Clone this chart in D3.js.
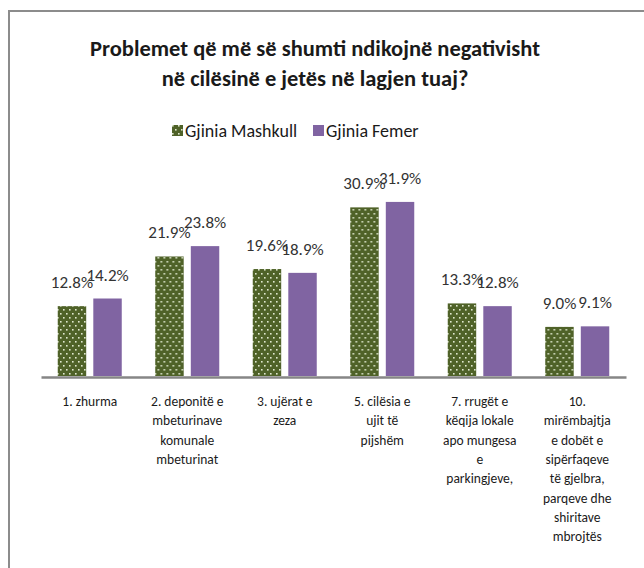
<!DOCTYPE html>
<html><head><meta charset="utf-8">
<script src="https://cdn.jsdelivr.net/npm/d3@7"></script>
<style>html,body{margin:0;background:#fff;overflow:hidden}svg{display:block}</style>
</head><body>
<svg id="chart" width="644" height="568"></svg>
<script>
const titleLines = ["Problemet që më së shumti ndikojnë negativisht", "në cilësinë e jetës në lagjen tuaj?"];
const categories = [
  ["1. zhurma"],
  ["2. deponitë e", "mbeturinave", "komunale", "mbeturinat"],
  ["3. ujërat e", "zeza"],
  ["5. cilësia e", "ujit të", "pijshëm"],
  ["7. rrugët e", "këqija lokale", "apo mungesa", "e", "parkingjeve,"],
  ["10.", "mirëmbajtja", "e dobët e", "sipërfaqeve", "të gjelbra,", "parqeve dhe", "shiritave", "mbrojtës"]
];
const seriesNames = ["Gjinia Mashkull", "Gjinia Femer"];
const male = [12.8, 21.9, 19.6, 30.9, 13.3, 9.0];
const female = [14.2, 23.8, 18.9, 31.9, 12.8, 9.1];

const font = "Carlito, Lato, 'Open Sans', sans-serif";
const svg = d3.select("#chart");

// pattern
const defs = svg.append("defs");
const pat = defs.append("pattern").attr("id","dots").attr("patternUnits","userSpaceOnUse")
  .attr("width",6).attr("height",8);
pat.append("rect").attr("width",6).attr("height",8).attr("fill","#4F6228");
pat.append("rect").attr("x",1).attr("y",1).attr("width",1.6).attr("height",1.6).attr("fill","#dfe8cf");
pat.append("rect").attr("x",4).attr("y",5).attr("width",1.6).attr("height",1.6).attr("fill","#dfe8cf");

// frame (only left and top edges are inside the picture)
svg.append("path").attr("d","M9,600V11H700")
  .attr("fill","none").attr("stroke","#8c8c8c").attr("stroke-width",2);

// title
svg.append("g").selectAll("text").data(titleLines).join("text")
  .attr("x",315).attr("y",(d,i)=>56+i*30).attr("text-anchor","middle")
  .attr("font-family",font).attr("font-weight","bold").attr("font-size",22.5)
  .attr("fill","#1a1a1a").text(d=>d);

const x0 = d3.scaleBand().domain(d3.range(categories.length)).range([41,626]);
const x1 = d3.scaleBand().domain([0,1]).range([x0.bandwidth()/2-32, x0.bandwidth()/2+32]).paddingInner(0.2);
const y = d3.scaleLinear().domain([0,35]).range([376,185]);
const fills = ["url(#dots)", "#8064A2"];
const data = [male, female];

const groups = svg.append("g").selectAll("g").data(categories).join("g")
  .attr("transform",(d,i)=>`translate(${x0(i)},0)`);
groups.each(function(c,i){
  const g = d3.select(this);
  [0,1].forEach(s=>{
    const v = data[s][i];
    g.append("rect").attr("x",x1(s)).attr("width",x1.bandwidth())
      .attr("y",y(v)).attr("height",y(0)-y(v)).attr("fill",fills[s]);
  });
});
groups.each(function(c,i){
  const g = d3.select(this);
  [0,1].forEach(s=>{
    const v = data[s][i];
    g.append("text").attr("x",x1(s)+x1.bandwidth()/2).attr("y",y(v)-18)
      .attr("text-anchor","middle").attr("font-family",font).attr("font-size",17)
      .attr("fill","#333").text(v.toFixed(1)+"%");
  });
});

// axis
const axis = svg.append("g").attr("transform","translate(0,377)")
  .call(d3.axisBottom(x0).tickSize(0).tickFormat(""));
axis.select(".domain").attr("stroke","#868686").attr("stroke-width",2.5);

// category labels
groups.each(function(c,i){
  d3.select(this).append("g").selectAll("text").data(c).join("text")
    .attr("x",x0.bandwidth()/2).attr("y",(d,j)=>406+j*19.3)
    .attr("text-anchor","middle").attr("font-family",font).attr("font-size",13.5)
    .attr("fill","#1a1a1a").text(d=>d);
});

// legend
const leg = svg.append("g");
const legX = [172, 313];
seriesNames.forEach((n,i)=>{
  leg.append("rect").attr("x",legX[i]).attr("y",125).attr("width",11).attr("height",11).attr("fill",fills[i]);
  leg.append("text").attr("x",legX[i]+13).attr("y",137).attr("font-family",font).attr("font-size",18)
    .attr("fill","#1a1a1a").text(n);
});
</script>
</body></html>
